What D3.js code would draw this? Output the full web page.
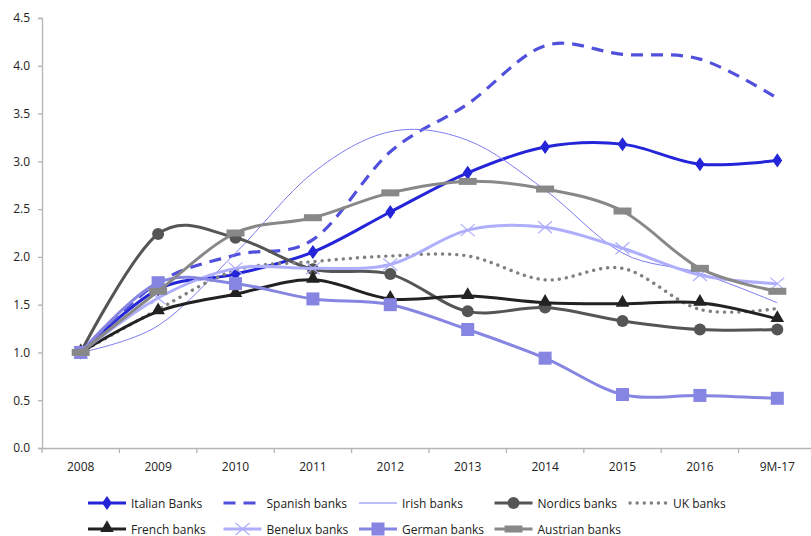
<!DOCTYPE html>
<html>
<head>
<meta charset="utf-8">
<script src="https://cdn.jsdelivr.net/npm/d3@7"></script>
<style>
  html, body { margin: 0; padding: 0; background: #fff; }
  svg text { font-family: "Open Sans", "Noto Sans", sans-serif; fill: #222; }
</style>
</head>
<body>
<svg id="chart" width="811" height="536"></svg>
<script>
// Categories along the x axis
const years = ["2008", "2009", "2010", "2011", "2012", "2013", "2014", "2015", "2016", "9M-17"];

// Index values per banking system (2008 = 1.0)
const italian  = [1.00, 1.66, 1.82, 2.05, 2.47, 2.88, 3.15, 3.18, 2.97, 3.01];
const spanish  = [1.00, 1.73, 2.02, 2.18, 3.10, 3.60, 4.21, 4.12, 4.07, 3.66];
const irish    = [1.00, 1.28, 2.04, 2.88, 3.31, 3.22, 2.70, 2.04, 1.83, 1.52];
const nordics  = [1.00, 2.24, 2.20, 1.87, 1.82, 1.43, 1.47, 1.33, 1.24, 1.24];
const uk       = [1.00, 1.45, 1.86, 1.95, 2.01, 2.01, 1.76, 1.88, 1.45, 1.46];
const french   = [1.00, 1.43, 1.61, 1.76, 1.56, 1.59, 1.52, 1.51, 1.52, 1.35];
const benelux  = [1.00, 1.57, 1.88, 1.88, 1.92, 2.28, 2.31, 2.09, 1.81, 1.72];
const german   = [1.00, 1.73, 1.72, 1.56, 1.50, 1.24, 0.94, 0.56, 0.55, 0.52];
const austrian = [1.00, 1.64, 2.25, 2.41, 2.67, 2.79, 2.71, 2.48, 1.88, 1.64];

// Y axis tick values
const yTicks = [0, 0.5, 1.0, 1.5, 2.0, 2.5, 3.0, 3.5, 4.0, 4.5];

const series = [
  { name: "Italian Banks",  values: italian,  color: "#2424d8", width: 3,   dash: null,    marker: "diamond" },
  { name: "Spanish banks",  values: spanish,  color: "#5050dc", width: 3.2, dash: "12,8",  marker: null },
  { name: "Irish banks",    values: irish,    color: "#7c7cf0", width: 1,   dash: null,    marker: null },
  { name: "Nordics banks",  values: nordics,  color: "#555555", width: 3,   dash: null,    marker: "circle" },
  { name: "UK banks",       values: uk,       color: "#808080", width: 3,   dash: "0.1,7", marker: null, round: true },
  { name: "French banks",   values: french,   color: "#222222", width: 3,   dash: null,    marker: "triangle" },
  { name: "Benelux banks",  values: benelux,  color: "#aeaefc", width: 3,   dash: null,    marker: "x" },
  { name: "German banks",   values: german,   color: "#8686e2", width: 3,   dash: null,    marker: "square" },
  { name: "Austrian banks", values: austrian, color: "#888888", width: 3,   dash: null,    marker: "bar" }
];

const svg = d3.select("#chart");
const plotLeft = 42, plotRight = 816, plotTop = 18, plotBottom = 448;

const x = d3.scaleBand().domain(years).range([plotLeft, plotRight]).padding(0);
const y = d3.scaleLinear().domain([0, 4.5]).range([plotBottom, plotTop]);
const cx = d => x(d) + x.bandwidth() / 2;

const axisColor = "#b4b4b4";

// Y axis
const yAxis = svg.append("g")
  .attr("transform", `translate(${plotLeft},0)`)
  .call(d3.axisLeft(y).tickValues(yTicks).tickFormat(d3.format(".1f")).tickSize(4).tickPadding(8));
yAxis.select(".domain").attr("stroke", axisColor).attr("stroke-width", 1.3);
yAxis.selectAll(".tick line").attr("stroke", axisColor).attr("stroke-width", 1.3);
yAxis.selectAll("text").style("font-size", "12px").attr("fill", "#222");

// X axis: labels centred in each band, tick marks on band boundaries
const xAxis = svg.append("g")
  .attr("transform", `translate(0,${plotBottom})`)
  .call(d3.axisBottom(x).tickSize(0).tickPadding(14));
xAxis.select(".domain").attr("stroke", axisColor).attr("stroke-width", 1.3);
xAxis.selectAll("text").style("font-size", "12px").attr("fill", "#222");
xAxis.selectAll(".tick-edge")
  .data(years)
  .join("line")
  .attr("class", "tick-edge")
  .attr("x1", d => x(d)).attr("x2", d => x(d))
  .attr("y1", 0).attr("y2", 5)
  .attr("stroke", axisColor).attr("stroke-width", 1.3);

const line = d3.line()
  .x((v, i) => cx(years[i]))
  .y(v => y(v))
  .curve(d3.curveCardinal.tension(0));

function drawMarker(g, type, color, px, py) {
  switch (type) {
    case "diamond":
      g.append("path").attr("d", d3.symbol(d3.symbolDiamond, 70)())
        .attr("transform", `translate(${px},${py}) scale(1.1,0.9)`).attr("fill", color);
      break;
    case "circle":
      g.append("circle").attr("cx", px).attr("cy", py).attr("r", 6).attr("fill", color);
      break;
    case "triangle":
      g.append("path").attr("d", d3.symbol(d3.symbolTriangle, 80)())
        .attr("transform", `translate(${px},${py - 1})`).attr("fill", color);
      break;
    case "x":
      g.append("path")
        .attr("d", `M${px - 7},${py - 6}L${px + 7},${py + 6}M${px - 7},${py + 6}L${px + 7},${py - 6}`)
        .attr("stroke", color).attr("stroke-width", 1.2).attr("fill", "none");
      break;
    case "square":
      g.append("rect").attr("x", px - 6.5).attr("y", py - 6.5).attr("width", 13).attr("height", 13).attr("fill", color);
      break;
    case "bar":
      g.append("rect").attr("x", px - 9).attr("y", py - 3.5).attr("width", 18).attr("height", 7).attr("fill", color);
      break;
  }
}

// Lines and markers, one group per series
series.forEach(s => {
  const g = svg.append("g");
  g.append("path")
    .datum(s.values)
    .attr("d", line)
    .attr("fill", "none")
    .attr("stroke", s.color)
    .attr("stroke-width", s.round ? 3.4 : s.width)
    .attr("stroke-linecap", s.round ? "round" : "butt")
    .attr("stroke-dasharray", s.dash);
  if (s.marker) {
    s.values.forEach((v, i) => drawMarker(g, s.marker, s.color, cx(years[i]), y(v)));
  }
});

// Legend: two rows of sample lines with labels
const legendCols = [88, 223.5, 359, 494.5, 630];
const legendRows = [503, 529];
const legend = svg.append("g");
series.forEach((s, i) => {
  const row = i < 5 ? 0 : 1;
  const col = i < 5 ? i : i - 5;
  const lx = legendCols[col], ly = legendRows[row];
  const g = legend.append("g");
  g.append("line")
    .attr("x1", lx).attr("x2", lx + 38).attr("y1", ly).attr("y2", ly)
    .attr("stroke", s.color)
    .attr("stroke-width", s.round ? 3.4 : s.width)
    .attr("stroke-linecap", s.round ? "round" : "butt")
    .attr("stroke-dasharray", s.dash);
  if (s.marker) drawMarker(g, s.marker, s.color, lx + 19, ly);
  g.append("text")
    .attr("x", lx + 43).attr("y", ly + 4.5)
    .style("font-size", "12px")
    .text(s.name);
});
</script>
</body>
</html>
